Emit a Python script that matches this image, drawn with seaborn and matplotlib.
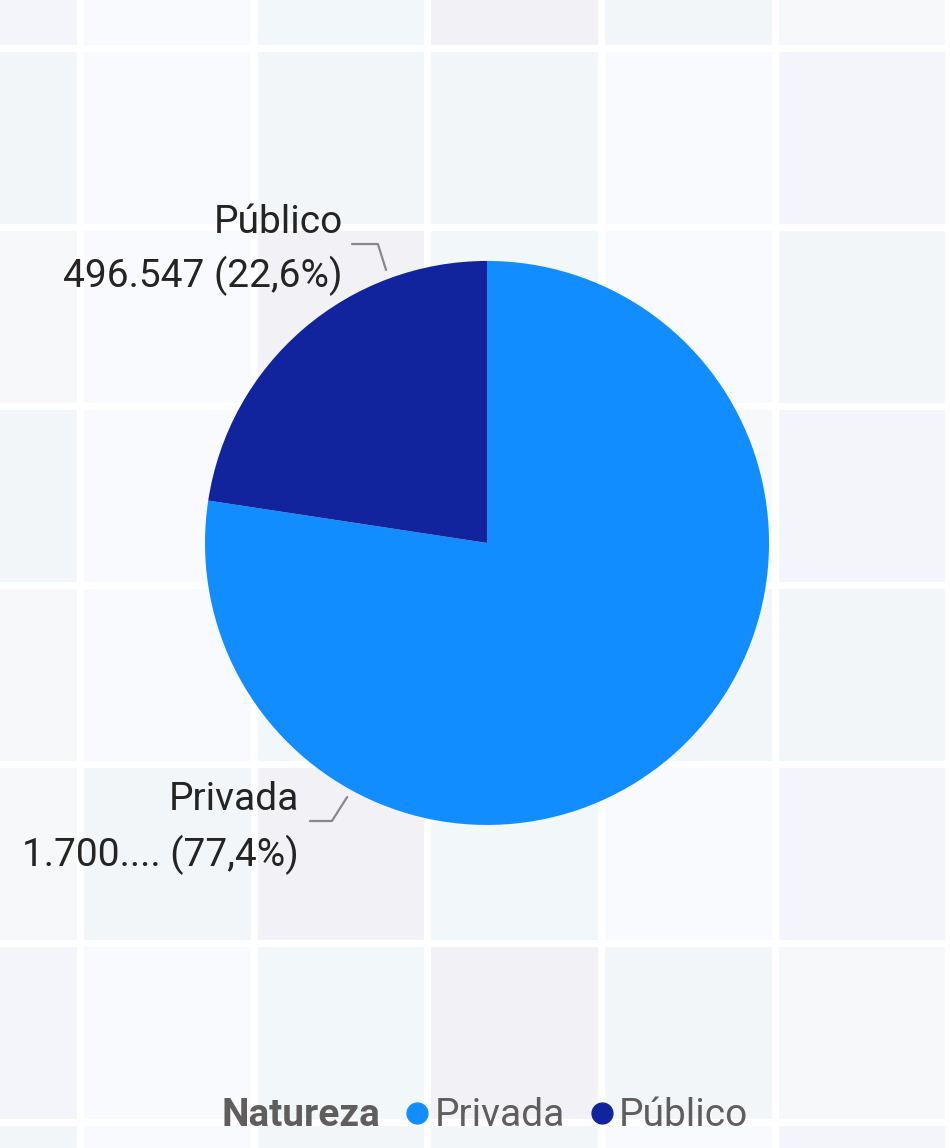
import numpy as np
import seaborn as sns
import matplotlib.pyplot as plt
from matplotlib.colors import ListedColormap
from matplotlib.lines import Line2D

sns.set_style("white")
plt.rcParams['font.family'] = ['Roboto', 'DejaVu Sans']

# ----------------------------
# Data
# ----------------------------
categories = ["Privada", "Público"]
totals = [1700564, 496547]
pie_colors = ["#118DFF", "#12239E"]
legend_title = "Natureza"

# background mosaic: tint index per tile (rows top to bottom)
tints = ["#F3F5FB", "#F9FAFD", "#F2F8FA", "#F2F2F6", "#F3F6F9", "#F6F8F9"]
tile_codes = [
    [0, 1, 2, 3, 4, 5, 1],
    [4, 1, 4, 4, 1, 0, 4],
    [5, 1, 3, 2, 1, 4, 5],
    [4, 1, 4, 3, 5, 0, 1],
    [5, 1, 2, 1, 4, 4, 0],
    [5, 4, 3, 2, 1, 0, 4],
    [0, 1, 2, 3, 4, 5, 1],
    [4, 1, 4, 4, 1, 0, 4],
]

fig = plt.figure(figsize=(9.5, 11.48), dpi=100)

# ----------------------------
# Background tiles
# ----------------------------
bg = fig.add_axes([0, 0, 1, 1])
sns.heatmap(np.array(tile_codes), cmap=ListedColormap(tints), vmin=-0.5, vmax=len(tints) - 0.5,
            cbar=False, linewidths=5, linecolor="white", ax=bg)
bg.set_xlim(0.539, 6.01)
bg.set_ylim(7.145, 0.732)
bg.axis("off")

# ----------------------------
# Pie
# ----------------------------
ax = fig.add_axes([0.2158, 0.2814, 0.5937, 0.4913])
ax.pie(totals, colors=pie_colors, startangle=90, counterclock=False, radius=1,
       wedgeprops=dict(linewidth=0))
ax.set_xlim(-1, 1)
ax.set_ylim(-1, 1)
ax.axis("off")

share = np.array(totals) / sum(totals) * 100


def fmt_label(v, p):
    # pt-BR style: thousands with '.', decimals with ','
    s = f"{v:,}".replace(",", ".")
    if v >= 1_000_000:
        s = s[:5] + "...."
    return f"{s} ({p:.1f}%)".replace("%)", "%)").replace(f"{p:.1f}", f"{p:.1f}".replace(".", ","))


label_pos = {
    # name line, value line, leader polyline
    "Público": ((-0.511, 1.138), (-0.511, 0.947), [(-0.479, -0.387, -0.358), (1.060, 1.060, 0.968)]),
    "Privada": ((-0.667, -0.908), (-0.667, -1.106), [(-0.628, -0.550, -0.496), (-0.986, -0.986, -0.901)]),
}

for name, v, p in zip(categories, totals, share):
    (nx, ny), (vx, vy), (lx, ly) = label_pos[name]
    ax.text(nx, ny, name, ha="right", va="center", fontsize=28, color="#252423", clip_on=False)
    ax.text(vx, vy, fmt_label(v, p), ha="right", va="center", fontsize=28, color="#252423", clip_on=False)
    ax.plot(lx, ly, color="#8A8886", lw=1.6, clip_on=False)

# ----------------------------
# Legend
# ----------------------------
handles = [Line2D([], [], linestyle="none", marker=None)]
handles += [Line2D([], [], linestyle="none", marker="o", markersize=15, color=c) for c in pie_colors]
leg = fig.legend(handles, [legend_title] + categories, loc="center", bbox_to_anchor=(0.495, 0.028),
                 ncol=3, frameon=False, fontsize=28, handlelength=0.6, handletextpad=0.15,
                 columnspacing=0.65, labelcolor="#605E5C")
leg.get_texts()[0].set_fontweight("bold")

fig.savefig("out.png", dpi=100)
plt.close()
